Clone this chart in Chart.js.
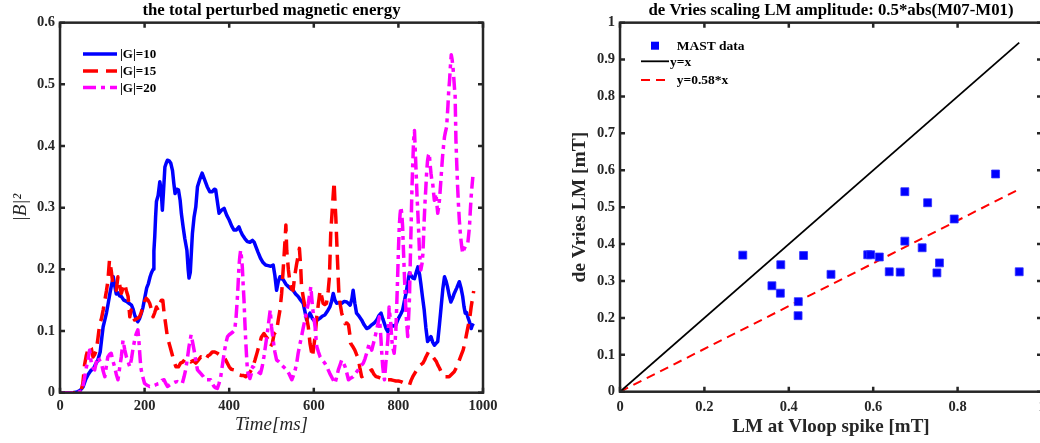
<!DOCTYPE html>
<html>
<head>
<meta charset="utf-8">
<title>Perturbed magnetic energy / de Vries scaling</title>
<script src="https://cdn.jsdelivr.net/npm/chart.js@4.4.1/dist/chart.umd.min.js"></script>
<style>
  html, body { margin: 0; padding: 0; background: #fff; overflow: hidden; }
  body { width: 1040px; height: 443px; position: relative; }
  canvas { position: absolute; top: 0; }
  #energyChart { left: 0; }
  #scalingChart { left: 530px; }
</style>
</head>
<body>
<canvas id="energyChart" width="530" height="443"></canvas>
<canvas id="scalingChart" width="530" height="443"></canvas>
<script>
// Perturbed magnetic energy traces, [time ms, |B|^2]
const g10Trace = [[0,0],[30,0],[40,0.001],[48,0.004],[55,0.01],[61,0.022],[67,0.03],[73,0.036],[79,0.039],[84,0.046],[89,0.052],[95,0.066],[99,0.09],[102,0.107],[106,0.118],[110,0.13],[114,0.145],[118,0.161],[122,0.175],[126,0.188],[129,0.175],[133,0.16],[137,0.162],[141,0.157],[145,0.156],[151,0.15],[157,0.148],[163,0.145],[169,0.142],[173,0.135],[177,0.125],[181,0.118],[184,0.115],[188,0.12],[192,0.128],[196,0.138],[201,0.156],[205,0.17],[209,0.177],[213,0.188],[216,0.194],[220,0.2],[222,0.23],[224,0.253],[226,0.285],[228,0.31],[232,0.32],[236,0.342],[239,0.33],[242,0.296],[245,0.33],[248,0.366],[251,0.372],[254,0.377],[258,0.376],[262,0.372],[266,0.36],[269,0.34],[272,0.323],[276,0.33],[280,0.329],[284,0.312],[287,0.29],[291,0.269],[295,0.25],[300,0.231],[303,0.2],[305,0.186],[308,0.195],[310,0.22],[313,0.258],[317,0.285],[321,0.301],[325,0.334],[330,0.345],[336,0.356],[342,0.345],[348,0.334],[354,0.326],[360,0.326],[365,0.33],[368,0.329],[372,0.31],[376,0.291],[382,0.296],[388,0.299],[394,0.288],[400,0.28],[406,0.27],[411,0.264],[417,0.264],[423,0.269],[427,0.262],[431,0.256],[437,0.25],[443,0.245],[449,0.244],[455,0.247],[459,0.244],[463,0.237],[468,0.228],[474,0.218],[480,0.211],[486,0.207],[492,0.206],[498,0.205],[504,0.207],[508,0.19],[512,0.166],[516,0.18],[520,0.188],[524,0.185],[528,0.183],[534,0.176],[540,0.172],[546,0.168],[551,0.166],[557,0.16],[563,0.156],[569,0.15],[575,0.145],[579,0.132],[583,0.118],[587,0.124],[591,0.129],[597,0.12],[603,0.115],[609,0.118],[615,0.121],[620,0.124],[626,0.126],[632,0.132],[638,0.139],[642,0.148],[646,0.161],[650,0.15],[654,0.145],[660,0.146],[666,0.145],[672,0.148],[678,0.147],[683,0.144],[686,0.142],[690,0.152],[693,0.166],[697,0.145],[701,0.129],[707,0.124],[713,0.118],[719,0.11],[725,0.104],[731,0.106],[737,0.11],[743,0.113],[749,0.118],[754,0.125],[759,0.129],[763,0.12],[767,0.112],[771,0.104],[775,0.099],[779,0.105],[782,0.11],[788,0.108],[794,0.11],[798,0.117],[802,0.123],[806,0.128],[810,0.134],[814,0.148],[818,0.161],[822,0.178],[826,0.194],[830,0.19],[834,0.186],[838,0.185],[842,0.195],[846,0.204],[850,0.192],[853,0.177],[857,0.155],[861,0.134],[865,0.105],[869,0.083],[873,0.087],[877,0.091],[881,0.082],[885,0.077],[889,0.08],[893,0.083],[897,0.11],[901,0.139],[905,0.168],[909,0.188],[913,0.18],[916,0.172],[920,0.158],[924,0.147],[928,0.153],[932,0.161],[938,0.17],[944,0.18],[948,0.17],[952,0.156],[955,0.14],[958,0.129],[961,0.13],[964,0.123],[968,0.115],[972,0.104],[975,0.11],[978,0.108]];

const g15Trace = [[0,0],[40,0],[50,0.004],[54,0.015],[58,0.045],[62,0.06],[66,0.07],[70,0.075],[74,0.072],[78,0.058],[82,0.062],[86,0.069],[90,0.09],[94,0.112],[98,0.12],[102,0.134],[106,0.15],[110,0.166],[113,0.18],[117,0.215],[121,0.199],[125,0.177],[129,0.172],[133,0.166],[137,0.188],[141,0.175],[145,0.161],[149,0.17],[153,0.177],[157,0.165],[161,0.156],[165,0.123],[168,0.134],[172,0.125],[176,0.118],[182,0.12],[188,0.123],[192,0.13],[196,0.139],[200,0.148],[204,0.153],[208,0.15],[212,0.145],[216,0.135],[220,0.123],[224,0.13],[228,0.139],[232,0.134],[236,0.145],[240,0.15],[243,0.15],[246,0.13],[250,0.11],[254,0.09],[258,0.08],[262,0.07],[266,0.06],[270,0.05],[274,0.042],[280,0.042],[285,0.048],[291,0.05],[297,0.056],[303,0.053],[309,0.05],[315,0.052],[321,0.048],[327,0.053],[333,0.058],[338,0.055],[344,0.053],[350,0.06],[355,0.062],[360,0.066],[366,0.066],[372,0.064],[378,0.061],[383,0.06],[388,0.058],[394,0.05],[400,0.042],[405,0.038],[411,0.037],[417,0.032],[423,0.029],[429,0.028],[434,0.028],[439,0.026],[445,0.03],[450,0.034],[455,0.04],[461,0.053],[466,0.065],[470,0.075],[476,0.09],[482,0.096],[488,0.09],[494,0.085],[498,0.075],[502,0.08],[506,0.095],[512,0.1],[516,0.118],[520,0.134],[524,0.161],[528,0.204],[532,0.247],[534,0.272],[536,0.231],[540,0.199],[544,0.177],[548,0.168],[551,0.166],[555,0.19],[559,0.207],[563,0.222],[566,0.234],[569,0.204],[571,0.172],[575,0.155],[579,0.139],[583,0.122],[587,0.107],[591,0.08],[594,0.068],[597,0.058],[600,0.075],[603,0.091],[607,0.123],[611,0.145],[615,0.166],[619,0.155],[622,0.145],[626,0.143],[630,0.145],[634,0.165],[637,0.188],[640,0.258],[643,0.29],[645,0.312],[648,0.342],[650,0.31],[652,0.285],[654,0.25],[656,0.215],[659,0.166],[662,0.145],[666,0.129],[670,0.12],[674,0.112],[678,0.113],[682,0.11],[685,0.095],[687,0.08],[692,0.075],[697,0.069],[701,0.062],[705,0.056],[709,0.04],[713,0.026],[719,0.028],[725,0.031],[731,0.034],[737,0.037],[742,0.03],[747,0.026],[753,0.025],[759,0.023],[765,0.022],[771,0.021],[777,0.021],[782,0.021],[788,0.02],[794,0.019],[800,0.019],[806,0.018],[812,0.016],[818,0.015],[822,0.013],[826,0.012],[830,0.02],[834,0.026],[840,0.033],[846,0.04],[852,0.045],[858,0.048],[862,0.053],[865,0.058],[868,0.062],[871,0.066],[875,0.064],[879,0.061],[883,0.057],[887,0.053],[890,0.05],[893,0.045],[897,0.04],[901,0.034],[905,0.03],[909,0.026],[915,0.026],[920,0.026],[926,0.03],[932,0.034],[938,0.042],[944,0.053],[948,0.06],[953,0.069],[957,0.08],[960,0.091],[964,0.105],[967,0.115],[970,0.128],[972,0.139],[975,0.152],[978,0.165]];

const g20Trace = [[0,0],[40,0],[52,0.003],[57,0.02],[62,0.04],[66,0.053],[70,0.069],[74,0.048],[78,0.04],[82,0.037],[86,0.05],[90,0.058],[94,0.052],[98,0.048],[102,0.035],[106,0.026],[110,0.045],[113,0.058],[117,0.062],[121,0.064],[125,0.052],[129,0.042],[133,0.03],[137,0.021],[141,0.04],[145,0.058],[149,0.085],[153,0.07],[157,0.058],[161,0.05],[165,0.042],[169,0.055],[172,0.069],[175,0.08],[178,0.091],[181,0.097],[184,0.102],[186,0.09],[188,0.069],[190,0.05],[192,0.037],[196,0.025],[200,0.015],[206,0.012],[212,0.01],[218,0.011],[224,0.012],[230,0.014],[236,0.015],[241,0.02],[246,0.021],[250,0.015],[254,0.01],[260,0.013],[265,0.015],[271,0.017],[277,0.018],[283,0.016],[289,0.015],[293,0.025],[297,0.037],[301,0.055],[305,0.075],[310,0.094],[314,0.08],[317,0.069],[321,0.052],[325,0.037],[329,0.034],[333,0.031],[339,0.026],[344,0.021],[350,0.021],[356,0.021],[360,0.015],[364,0.01],[368,0.008],[372,0.007],[376,0.015],[380,0.026],[384,0.045],[388,0.064],[392,0.08],[396,0.091],[400,0.094],[404,0.096],[408,0.098],[413,0.102],[416,0.12],[419,0.15],[421,0.175],[423,0.204],[425,0.22],[427,0.231],[429,0.22],[431,0.204],[433,0.175],[435,0.15],[437,0.115],[439,0.085],[441,0.06],[443,0.037],[446,0.028],[449,0.023],[452,0.03],[455,0.042],[459,0.04],[463,0.037],[468,0.034],[474,0.031],[478,0.042],[482,0.058],[486,0.077],[490,0.096],[494,0.118],[497,0.134],[500,0.107],[503,0.09],[505,0.08],[508,0.066],[512,0.053],[518,0.05],[524,0.045],[530,0.041],[536,0.037],[542,0.03],[548,0.021],[552,0.028],[556,0.037],[560,0.05],[563,0.064],[567,0.078],[571,0.091],[575,0.105],[579,0.118],[583,0.132],[587,0.145],[590,0.158],[593,0.172],[595,0.155],[597,0.139],[600,0.122],[603,0.107],[605,0.09],[607,0.075],[611,0.066],[615,0.058],[620,0.053],[626,0.048],[632,0.04],[638,0.031],[644,0.023],[650,0.015],[654,0.025],[658,0.037],[662,0.045],[666,0.053],[670,0.048],[674,0.042],[678,0.032],[682,0.021],[688,0.024],[693,0.026],[699,0.032],[705,0.037],[711,0.043],[717,0.048],[721,0.055],[725,0.064],[728,0.072],[731,0.08],[734,0.075],[737,0.069],[741,0.08],[745,0.091],[748,0.1],[751,0.11],[755,0.123],[757,0.105],[759,0.085],[761,0.06],[763,0.042],[765,0.03],[767,0.021],[770,0.045],[773,0.07],[775,0.085],[777,0.115],[778,0.139],[780,0.125],[782,0.112],[784,0.09],[786,0.075],[790,0.064],[792,0.08],[794,0.102],[796,0.14],[798,0.183],[800,0.23],[802,0.269],[804,0.29],[806,0.301],[808,0.29],[810,0.269],[812,0.23],[814,0.194],[816,0.16],[818,0.129],[820,0.11],[822,0.091],[824,0.12],[826,0.15],[828,0.21],[830,0.269],[832,0.33],[834,0.372],[836,0.41],[838,0.425],[840,0.39],[842,0.356],[844,0.32],[846,0.291],[848,0.26],[850,0.226],[853,0.199],[856,0.21],[858,0.226],[861,0.28],[863,0.31],[865,0.334],[867,0.36],[869,0.377],[871,0.385],[873,0.388],[875,0.37],[877,0.356],[879,0.345],[881,0.34],[883,0.325],[885,0.312],[887,0.318],[889,0.323],[891,0.305],[893,0.291],[895,0.3],[897,0.312],[899,0.33],[901,0.35],[903,0.37],[905,0.388],[907,0.402],[909,0.415],[911,0.422],[914,0.431],[917,0.464],[919,0.49],[921,0.507],[923,0.53],[925,0.548],[927,0.54],[929,0.528],[931,0.51],[933,0.49],[934,0.485],[936,0.41],[938,0.37],[940,0.334],[942,0.305],[944,0.28],[946,0.262],[948,0.247],[950,0.235],[952,0.226],[955,0.232],[958,0.237],[961,0.24],[964,0.242],[966,0.255],[968,0.269],[970,0.295],[972,0.318],[974,0.335],[976,0.35]];

// MAST shots: LM amplitude at the Vloop spike vs de Vries estimate [mT]
const lmSpike   = [0.291, 0.360, 0.380, 0.381, 0.4225, 0.422, 0.435, 0.500, 0.587, 0.594, 0.6145, 0.638, 0.664, 0.675, 0.675, 0.716, 0.729, 0.751, 0.757, 0.792, 0.890, 0.946];
const lmDeVries = [0.370, 0.287, 0.267, 0.344, 0.244, 0.206, 0.369, 0.318, 0.371, 0.371, 0.365, 0.325, 0.324, 0.542, 0.408, 0.390, 0.512, 0.322, 0.349, 0.468, 0.590, 0.325];

// reference lines run over the measured range
const lineX = [0, 0.946];
const FIT_SLOPE = 0.58;

// tick labels
const timeTicks   = [0, 200, 400, 600, 800, 1000];
const energyTicks = [0, 0.1, 0.2, 0.3, 0.4, 0.5, 0.6];
const spikeTicks  = [0, 0.2, 0.4, 0.6, 0.8, 1];
const vriesTicks  = [0, 0.1, 0.2, 0.3, 0.4, 0.5, 0.6, 0.7, 0.8, 0.9, 1];

const AXIS = '#262626';
const SERIF = "'Liberation Serif', 'Times New Roman', serif";

const toPoints = trace => trace.map(p => ({ x: p[0], y: p[1] }));
const fixedTicks = values => scale => { scale.ticks = values.map(v => ({ value: v })); };

// matlab style box with inward ticks on all four sides
const boxTicks = {
  id: 'boxTicks',
  afterDraw(chart, args, opts) {
    const { ctx, chartArea: a } = chart;
    const { x, y } = chart.scales;
    const len = opts.len || 5;
    ctx.save();
    ctx.strokeStyle = AXIS;
    ctx.lineWidth = opts.width || 2.5;
    ctx.beginPath();
    x.ticks.forEach(t => {
      const px = x.getPixelForValue(t.value);
      ctx.moveTo(px, a.bottom); ctx.lineTo(px, a.bottom - len);
      ctx.moveTo(px, a.top); ctx.lineTo(px, a.top + len);
    });
    y.ticks.forEach(t => {
      const py = y.getPixelForValue(t.value);
      ctx.moveTo(a.left, py); ctx.lineTo(a.left + len, py);
      ctx.moveTo(a.right, py); ctx.lineTo(a.right - len, py);
    });
    ctx.stroke();
    ctx.strokeRect(a.left, a.top, a.right - a.left, a.bottom - a.top);
    ctx.restore();
  }
};

// legend drawn inside the axes, one row per dataset
const insetLegend = {
  id: 'insetLegend',
  afterDraw(chart, args, opts) {
    const ctx = chart.ctx;
    ctx.save();
    ctx.font = opts.font;
    ctx.textBaseline = 'middle';
    chart.data.datasets.forEach((ds, i) => {
      const row = opts.rows[i];
      if (ds.showLine === false) {
        const s = opts.marker;
        const cx = (opts.x0 + opts.x1) / 2;
        ctx.fillStyle = ds.backgroundColor;
        ctx.fillRect(cx - s / 2, row.y - s / 2, s, s);
      } else {
        ctx.strokeStyle = ds.borderColor;
        ctx.lineWidth = ds.borderWidth;
        ctx.setLineDash(ds.borderDash || []);
        ctx.beginPath();
        ctx.moveTo(opts.x0, row.y);
        ctx.lineTo(opts.x1, row.y);
        ctx.stroke();
        ctx.setLineDash([]);
      }
      ctx.fillStyle = '#000';
      ctx.fillText(ds.label, row.tx, row.y + 1);
    });
    ctx.restore();
  }
};

const tickFont = { family: SERIF, size: 14.5, weight: 'bold' };
const titleFont = { family: SERIF, size: 16.8, weight: 'bold' };

function axis(min, max, values, extra) {
  return Object.assign({
    type: 'linear', min, max,
    afterBuildTicks: fixedTicks(values),
    grid: { display: false, drawTicks: false },
    border: { display: false },
    ticks: { font: tickFont, color: AXIS, autoSkip: false, maxRotation: 0, callback: v => String(v) }
  }, extra);
}

const baseOptions = {
  responsive: false,
  animation: false,
  devicePixelRatio: 1,
  events: [],
  elements: {
    point: { radius: 0 },
    line: { tension: 0, fill: false, borderCapStyle: 'butt', borderJoinStyle: 'round' }
  }
};

new Chart(document.getElementById('energyChart'), {
  type: 'line',
  data: {
    datasets: [
      { label: '|G|=10', data: toPoints(g10Trace), borderColor: '#0000ff', borderWidth: 3.5, order: 2 },
      { label: '|G|=15', data: toPoints(g15Trace), borderColor: '#ff0000', borderWidth: 3.5, borderDash: [15, 8], order: 1 },
      { label: '|G|=20', data: toPoints(g20Trace), borderColor: '#ff00ff', borderWidth: 3.5, borderDash: [13, 5, 4, 5], order: 0 }
    ]
  },
  options: Object.assign({}, baseOptions, {
    layout: { padding: { left: 0, right: 47, top: 0, bottom: 0 } },
    plugins: {
      legend: { display: false },
      tooltip: { enabled: false },
      title: {
        display: true, fullSize: false, color: '#000',
        text: 'the total perturbed magnetic energy',
        font: titleFont, padding: { top: 1, bottom: 1.5 }
      },
      boxTicks: { len: 5, width: 2.5 },
      insetLegend: {
        font: "bold 13px 'Liberation Serif', serif",
        x0: 83, x1: 117,
        rows: [{ y: 54, tx: 120 }, { y: 71, tx: 120 }, { y: 87.5, tx: 120 }]
      }
    },
    scales: {
      x: axis(0, 1000, timeTicks, {
        afterFit: s => { s.height = 50.3; },
        ticks: { font: tickFont, color: AXIS, autoSkip: false, maxRotation: 0, padding: 5, callback: v => String(v) },
        title: {
          display: true, text: 'Time[ms]', color: AXIS,
          font: { family: SERIF, size: 19, style: 'italic', weight: 'normal' },
          padding: { top: 0, bottom: 6.6 }
        }
      }),
      y: axis(0, 0.6, energyTicks, {
        afterFit: s => { s.width = 60; },
        ticks: { font: tickFont, color: AXIS, autoSkip: false, padding: 5, callback: v => String(v) },
        title: {
          display: true, text: '|B|\u00B2', color: AXIS,
          font: { family: SERIF, size: 19, style: 'italic', weight: 'normal' },
          padding: { top: 10, bottom: 0 }
        }
      })
    }
  }),
  plugins: [boxTicks, insetLegend]
});

new Chart(document.getElementById('scalingChart'), {
  type: 'scatter',
  data: {
    datasets: [
      {
        label: 'MAST data',
        data: lmSpike.map((x, i) => ({ x, y: lmDeVries[i] })),
        showLine: false, pointStyle: 'rect', pointRadius: 5.6,
        backgroundColor: '#0000ff', borderColor: '#3030ff', borderWidth: 0.8
      },
      {
        label: 'y=x',
        data: lineX.map(x => ({ x, y: x })),
        showLine: true, borderColor: '#000000', borderWidth: 1.8, pointRadius: 0
      },
      {
        label: 'y=0.58*x',
        data: lineX.map(x => ({ x, y: FIT_SLOPE * x })),
        showLine: true, borderColor: '#ff0000', borderWidth: 2, borderDash: [9, 6], pointRadius: 0
      }
    ]
  },
  options: Object.assign({}, baseOptions, {
    layout: { padding: { left: 0, right: 18, top: 0, bottom: 0 } },
    plugins: {
      legend: { display: false },
      tooltip: { enabled: false },
      title: {
        display: true, fullSize: false, color: '#000',
        text: 'de Vries scaling LM amplitude: 0.5*abs(M07-M01)',
        font: titleFont, padding: { top: 1, bottom: 1.5 }
      },
      boxTicks: { len: 5, width: 2.5 },
      insetLegend: {
        font: "bold 13.5px 'Liberation Serif', serif",
        x0: 111, x1: 139, marker: 8,
        rows: [{ y: 45.7, tx: 146.7 }, { y: 61.3, tx: 140 }, { y: 80, tx: 146.7 }]
      }
    },
    scales: {
      x: axis(0, 1, spikeTicks, {
        afterFit: s => { s.height = 51.3; },
        ticks: { font: tickFont, color: AXIS, autoSkip: false, maxRotation: 0, padding: 7, callback: v => String(v) },
        title: {
          display: true, text: 'LM at Vloop spike [mT]', color: AXIS,
          font: { family: SERIF, size: 19, weight: 'bold' },
          padding: { top: 0, bottom: 4.6 }
        }
      }),
      y: axis(0, 1, vriesTicks, {
        afterFit: s => { s.width = 90; },
        ticks: { font: tickFont, color: AXIS, autoSkip: false, padding: 5, callback: v => String(v) },
        title: {
          display: true, text: 'de Vries LM [mT]', color: AXIS,
          font: { family: SERIF, size: 19.5, weight: 'bold' },
          padding: { top: 38.3, bottom: 0 }
        }
      })
    }
  }),
  plugins: [boxTicks, insetLegend]
});
</script>
</body>
</html>
